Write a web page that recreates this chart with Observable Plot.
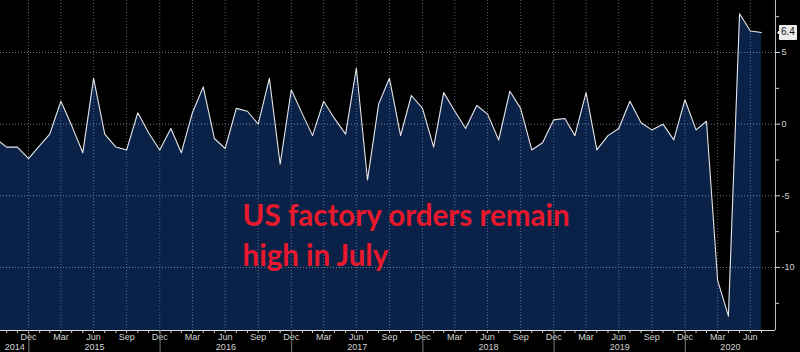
<!DOCTYPE html>
<html><head><meta charset="utf-8">
<script src="https://cdn.jsdelivr.net/npm/d3@7"></script>
<script src="https://cdn.jsdelivr.net/npm/@observablehq/plot@0.6"></script>
<style>
html,body{margin:0;padding:0;background:#000;}
#chart svg{display:block}
</style></head><body><div id="chart"></div>
<script>
// First value is September 2014, monthly through July 2020 (% m/m)
const startYear = 2014, startMonth = 8;
const values = [
  -1.0, -1.6, -1.6, -2.4,
  -1.5, -0.7, 1.6, -0.1, -2.0, 3.2, -0.7, -1.6, -1.8, 0.8, -0.6, -1.8,
  -0.3, -2.0, 0.8, 2.6, -1.0, -1.7, 1.1, 0.9, 0.0, 3.2, -2.8, 2.4,
  0.7, -0.8, 1.6, 0.4, -0.7, 3.9, -3.9, 1.4, 3.2, -0.8, 2.0, 1.1,
  -1.6, 2.2, 0.9, -0.3, 1.3, 0.7, -1.1, 2.3, 1.1, -1.8, -1.3, 0.3,
  0.4, -0.8, 2.2, -1.8, -0.8, -0.3, 1.6, 0.1, -0.4, 0.0, -1.1, 1.7,
  -0.4, 0.2, -10.9, -13.4, 7.7, 6.5, 6.4
];
const yTicks = [5, 0, -5, -10];
const yMinorTicks = [7.5, 2.5, -2.5, -7.5, -12.5];
const quarterMonths = [11, 2, 5, 8]; // Dec, Mar, Jun, Sep
const years = [2014, 2015, 2016, 2017, 2018, 2019, 2020];
const titleLines = ["US factory orders remain", "high in July"];
const lastLabel = "6.4";

const monthEnd = i => new Date(Date.UTC(startYear, startMonth + i + 1, 0));
const data = values.map((v, i) => ({date: monthEnd(i), value: v}));
const xDomain = [new Date(Date.UTC(2014, 9, 14)), new Date(Date.UTC(2020, 8, 8))];
const yDomain = [-14.4, 8.63];
const inDomain = d => d >= xDomain[0] && d <= xDomain[1];
const quarterTicks = data.map(d => d.date).filter(d => quarterMonths.includes(d.getUTCMonth()) && inDomain(d));
const monthTicks = data.map(d => d.date).filter(inDomain);
const yearBounds = years.map(y => new Date(Date.UTC(y, 0, 1))).filter(inDomain);
const yearMid = years.map(y => {
  const a = Math.max(Date.UTC(y, 0, 1), +xDomain[0]);
  const b = Math.min(Date.UTC(y + 1, 0, 1), +xDomain[1]);
  return new Date((a + b) / 2);
});

const axisFont = "Liberation Sans";
const chart = Plot.plot({
  width: 800, height: 352,
  marginLeft: 0, marginRight: 25, marginTop: 0, marginBottom: 22,
  style: {background: "#000", color: "#d4d4d4", fontFamily: axisFont, fontSize: "9px"},
  x: {type: "utc", domain: xDomain},
  y: {domain: yDomain},
  marks: [
    Plot.areaY(data, {x: "date", y1: yDomain[0], y2: "value", fill: "#0b2248", clip: true}),
    Plot.gridY(yTicks, {stroke: "#8fa3bf", strokeOpacity: 0.75, strokeDasharray: "1,2"}),
    Plot.gridX(quarterTicks, {stroke: "#8fa3bf", strokeOpacity: 0.6, strokeDasharray: "1,2"}),
    Plot.lineY(data, {x: "date", y: "value", stroke: "#e6e6e6", strokeWidth: 1.1, clip: true}),
    Plot.ruleY([yDomain[0]], {stroke: "#dcdcdc"}),
    Plot.ruleX([xDomain[1]], {stroke: "#bdbdbd"}),
    Plot.axisX(monthTicks, {tickSize: 3, fill: "none", stroke: "#cfcfcf", label: null}),
    Plot.axisX(quarterTicks, {tickSize: 0, tickPadding: 3, tickFormat: d3.utcFormat("%b"), label: null}),
    Plot.axisX(yearBounds, {tickSize: 22, fill: "none", stroke: "#7a7a7a", label: null}),
    Plot.axisX(yearMid, {tickSize: 0, tickPadding: 13, tickFormat: d => String(d.getUTCFullYear()), label: null}),
    Plot.axisY(yTicks, {anchor: "right", tickSize: 4, tickPadding: 2, tickFormat: d => String(d), label: null}),
    Plot.axisY(yMinorTicks, {anchor: "right", tickSize: 3, fill: "none", label: null}),
    Plot.text([titleLines.join("\n")], {
      frameAnchor: "top-left", dx: 242, dy: 197, lineAnchor: "top", textAnchor: "start",
      fill: "#e8192c", fontSize: 29.5, fontWeight: "bold", fontFamily: "Lato", lineHeight: 40 / 29.5
    }),
    Plot.tip([data[data.length - 1]], {
      x: "date", y: "value", title: () => lastLabel, anchor: "left", dx: 16,
      fill: "#ececec", stroke: "#ececec", fontSize: 10, fontFamily: axisFont,
      textPadding: 1.5, pointerSize: 4
    })
  ]
});
d3.select(chart).selectAll('g[aria-label="tip"] text, g[aria-label="tip"] tspan').attr("fill", "#111");
document.getElementById("chart").appendChild(chart);
</script></body></html>
